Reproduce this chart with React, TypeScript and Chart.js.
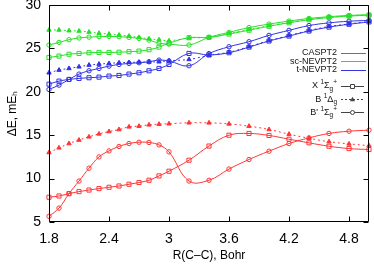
import React, { useEffect, useRef } from "react";
import { Chart, registerables } from "chart.js";
Chart.register(...registerables);

// Bond length R(C–C), Bohr
const bondLengths = [1.8, 1.9, 2.0, 2.1, 2.2, 2.3, 2.4, 2.5, 2.6, 2.7, 2.8, 2.9, 3.0, 3.2, 3.4, 3.6, 3.8, 4.0, 4.2, 4.4, 4.6, 4.8, 5.0];

// CASPT2
const caspt2X = [7.85, 8.0, 8.27, 8.5, 8.68, 8.85, 9.0, 9.15, 9.35, 9.55, 9.81, 10.31, 10.85, 12.12, 13.75, 15.0, 15.2, 14.97, 14.54, 14.12, 13.73, 13.46, 13.35];
const caspt2B = [13.0, 13.54, 14.04, 14.44, 14.81, 15.15, 15.42, 15.65, 15.96, 16.04, 16.19, 16.27, 16.32, 16.43, 16.42, 16.3, 16.04, 15.66, 15.12, 14.65, 14.25, 14.0, 13.8];
const caspt2Bp = [5.66, 6.6, 8.27, 9.72, 11.2, 12.5, 13.19, 13.7, 14.04, 14.19, 14.16, 13.88, 13.08, 9.72, 9.81, 11.1, 12.2, 13.16, 14.04, 14.69, 15.2, 15.46, 15.58];

// sc-NEVPT2
const scX = [23.96, 24.12, 24.33, 24.42, 24.5, 24.54, 24.54, 24.56, 24.62, 24.69, 24.85, 25.15, 25.6, 26.23, 26.27, 26.65, 27.1, 27.55, 27.95, 28.3, 28.55, 28.72, 28.82];
const scB = [27.12, 27.12, 27.04, 27.0, 26.88, 26.75, 26.65, 26.54, 26.42, 26.27, 26.1, 26.0, 25.88, 26.2, 26.27, 26.72, 27.17, 27.6, 28.0, 28.35, 28.58, 28.75, 28.86];
const scBp = [25.39, 25.69, 26.0, 26.2, 26.3, 26.35, 26.38, 26.35, 26.27, 26.15, 25.96, 25.6, 25.5, 25.39, 26.27, 26.85, 27.4, 27.8, 28.15, 28.45, 28.65, 28.8, 28.88];

// t-NEVPT2
const tX = [20.88, 21.23, 21.42, 21.54, 21.62, 21.69, 21.81, 21.88, 22.04, 22.19, 22.42, 22.69, 23.15, 24.42, 24.25, 24.5, 25.15, 25.85, 26.42, 27.0, 27.45, 27.78, 28.05];
const tB = [22.19, 22.5, 22.69, 22.88, 23.08, 23.19, 23.27, 23.35, 23.38, 23.42, 23.44, 23.46, 23.58, 23.73, 24.2, 24.56, 25.2, 25.9, 26.48, 27.06, 27.52, 27.82, 28.1];
const tBp = [20.27, 20.77, 21.42, 22.04, 22.42, 22.69, 22.96, 23.15, 23.27, 23.35, 23.46, 23.65, 23.55, 23.0, 24.4, 25.19, 25.77, 26.5, 27.08, 27.63, 27.94, 28.13, 28.23];

const xTicks = [1.8, 2.4, 3, 3.6, 4.2, 4.8];
const yTicks = [5, 10, 15, 20, 25, 30];

const methodNames = ["CASPT2", "sc-NEVPT2", "t-NEVPT2"];

const RED = "#ff3535";
const GREEN = "#25e025";
const BLUE = "#3232e6";
const FONT = "'Liberation Sans', Arial, Helvetica, sans-serif";

type State = "X" | "B" | "Bp";

function makeSeries(label: string, ys: number[], color: string, state: State) {
  const base: any = {
    label,
    data: bondLengths.map((x, i) => ({ x, y: ys[i] })),
    borderColor: color,
    borderWidth: 1,
    pointBorderColor: color,
    pointBorderWidth: 1,
    tension: 0.4,
    clip: false,
    fill: false,
  };
  if (state === "X") {
    base.pointStyle = "rect";
    base.pointRadius = 2.9;
    base.pointBackgroundColor = "rgba(0,0,0,0)";
  } else if (state === "B") {
    base.pointStyle = "triangle";
    base.pointRadius = 2.5;
    base.pointBackgroundColor = color;
    base.borderDash = [2, 3];
  } else {
    base.pointStyle = "circle";
    base.pointRadius = 2.2;
    base.pointBackgroundColor = "rgba(0,0,0,0)";
  }
  return base;
}

const framePlugin = {
  id: "frameTicks",
  afterDatasetsDraw(chart: any) {
    const { ctx, chartArea: a, scales } = chart;
    const L = Math.round(a.left) + 0.5;
    const R = Math.round(a.right) - 0.5;
    const T = Math.round(a.top) + 0.5;
    const B = Math.round(a.bottom) - 0.5;
    ctx.save();
    ctx.strokeStyle = "#000";
    ctx.lineWidth = 1;
    ctx.setLineDash([]);
    ctx.beginPath();
    ctx.rect(L, T, R - L, B - T);
    ctx.stroke();
    const len = 5;
    ctx.beginPath();
    for (const v of xTicks) {
      const px = Math.round(scales.x.getPixelForValue(v)) + 0.5;
      ctx.moveTo(px, B);
      ctx.lineTo(px, B - len);
      ctx.moveTo(px, T);
      ctx.lineTo(px, T + len);
    }
    for (const v of yTicks) {
      const py = Math.round(scales.y.getPixelForValue(v)) + 0.5;
      ctx.moveTo(L, py);
      ctx.lineTo(L + len, py);
      ctx.moveTo(R, py);
      ctx.lineTo(R - len, py);
    }
    ctx.stroke();
    ctx.restore();
  },
};

type Piece = { t: string; k: "n" | "sup" | "sub" };

const legendPlugin = {
  id: "customLegend",
  afterDraw(chart: any) {
    const ctx = chart.ctx;
    const textRight = 337;
    const lineL = 341;
    const lineR = 366;
    const mainSize = 9;
    const smallSize = 6.5;
    ctx.save();
    ctx.textBaseline = "middle";
    ctx.fillStyle = "#111";
    const methodColors = [RED, GREEN, BLUE];
    const methodY = [52.7, 61.3, 69.8];
    methodNames.forEach((name, i) => {
      ctx.font = `${mainSize}px ${FONT}`;
      ctx.textAlign = "right";
      ctx.fillStyle = "#111";
      ctx.fillText(name, textRight, methodY[i]);
      ctx.strokeStyle = methodColors[i];
      ctx.lineWidth = 1;
      ctx.setLineDash([]);
      ctx.beginPath();
      const y = Math.round(methodY[i]) + 0.5;
      ctx.moveTo(lineL, y);
      ctx.lineTo(lineR, y);
      ctx.stroke();
    });
    const states: { pieces: Piece[]; y: number; st: State }[] = [
      { pieces: [{ t: "X ", k: "n" }, { t: "1", k: "sup" }, { t: "Σ", k: "n" }, { t: "g", k: "sub" }, { t: "+", k: "sup" }], y: 86, st: "X" },
      { pieces: [{ t: "B ", k: "n" }, { t: "1", k: "sup" }, { t: "Δ", k: "n" }, { t: "g", k: "sub" }], y: 99.3, st: "B" },
      { pieces: [{ t: "B' ", k: "n" }, { t: "1", k: "sup" }, { t: "Σ", k: "n" }, { t: "g", k: "sub" }, { t: "+", k: "sup" }], y: 112.3, st: "Bp" },
    ];
    ctx.textAlign = "left";
    for (const s of states) {
      let total = 0;
      const widths = s.pieces.map((p) => {
        ctx.font = `${p.k === "n" ? mainSize : smallSize}px ${FONT}`;
        const w = ctx.measureText(p.t).width;
        total += w;
        return w;
      });
      let x = textRight - total;
      s.pieces.forEach((p, i) => {
        ctx.font = `${p.k === "n" ? mainSize : smallSize}px ${FONT}`;
        const dy = p.k === "sup" ? -3.5 : p.k === "sub" ? 2.8 : 0;
        ctx.fillStyle = "#111";
        ctx.fillText(p.t, x, s.y + dy);
        x += widths[i];
      });
      const y = Math.round(s.y) + 0.5;
      ctx.strokeStyle = "#444";
      ctx.fillStyle = "#444";
      ctx.lineWidth = 1;
      ctx.setLineDash(s.st === "B" ? [2, 2] : []);
      ctx.beginPath();
      ctx.moveTo(lineL, y);
      ctx.lineTo(lineR - 2, y);
      ctx.stroke();
      ctx.setLineDash([]);
      const cx = (lineL + lineR - 2) / 2;
      ctx.beginPath();
      if (s.st === "X") {
        ctx.rect(cx - 2, y - 2, 4, 4);
        ctx.fillStyle = "#fff";
        ctx.fill();
        ctx.stroke();
      } else if (s.st === "B") {
        ctx.moveTo(cx, y - 2.7);
        ctx.lineTo(cx + 2.5, y + 1.8);
        ctx.lineTo(cx - 2.5, y + 1.8);
        ctx.closePath();
        ctx.fill();
      } else {
        ctx.arc(cx, y, 2, 0, Math.PI * 2);
        ctx.fillStyle = "#fff";
        ctx.fill();
        ctx.stroke();
      }
    }
    ctx.restore();
  },
};

export default function App() {
  const ref = useRef<HTMLCanvasElement | null>(null);
  useEffect(() => {
    if (!ref.current) return;
    const datasets = [
      makeSeries("CASPT2 X", caspt2X, RED, "X"),
      makeSeries("CASPT2 B", caspt2B, RED, "B"),
      makeSeries("CASPT2 B'", caspt2Bp, RED, "Bp"),
      makeSeries("sc-NEVPT2 X", scX, GREEN, "X"),
      makeSeries("sc-NEVPT2 B", scB, GREEN, "B"),
      makeSeries("sc-NEVPT2 B'", scBp, GREEN, "Bp"),
      makeSeries("t-NEVPT2 X", tX, BLUE, "X"),
      makeSeries("t-NEVPT2 B", tB, BLUE, "B"),
      makeSeries("t-NEVPT2 B'", tBp, BLUE, "Bp"),
    ];
    const chart = new Chart(ref.current, {
      type: "line",
      data: { datasets },
      plugins: [framePlugin, legendPlugin],
      options: {
        animation: false,
        responsive: true,
        maintainAspectRatio: false,
        layout: { padding: { top: 5, right: 1, left: 0, bottom: 0 } },
        plugins: { legend: { display: false }, tooltip: { enabled: false } },
        scales: {
          x: {
            type: "linear",
            min: 1.8,
            max: 5.0,
            grid: { display: false, drawTicks: false },
            border: { display: false },
            afterBuildTicks: (scale: any) => {
              scale.ticks = xTicks.map((v) => ({ value: v }));
            },
            afterFit: (scale: any) => {
              scale.height = 45;
              scale.paddingLeft = 0;
              scale.paddingRight = 0;
            },
            ticks: {
              autoSkip: false,
              maxRotation: 0,
              padding: 9,
              color: "#000",
              font: { family: FONT, size: 14 },
              callback: (v: any) => String(v),
            },
            title: {
              display: true,
              text: "R(C–C), Bohr",
              color: "#000",
              font: { family: FONT, size: 12 },
              padding: { top: 0, bottom: 4 },
            },
          },
          y: {
            type: "linear",
            min: 5,
            max: 30,
            grid: { display: false, drawTicks: false },
            border: { display: false },
            afterBuildTicks: (scale: any) => {
              scale.ticks = yTicks.map((v) => ({ value: v }));
            },
            afterFit: (scale: any) => {
              scale.width = 49;
              scale.paddingTop = 0;
              scale.paddingBottom = 0;
            },
            ticks: {
              autoSkip: false,
              padding: 8,
              color: "#000",
              font: { family: FONT, size: 14 },
              callback: (v: any) => String(v),
            },
            title: {
              display: true,
              text: "ΔE, mEₕ",
              color: "#000",
              font: { family: FONT, size: 12 },
              padding: { top: 5, bottom: 0 },
            },
          },
        },
      } as any,
    });
    return () => chart.destroy();
  }, []);
  return (
    <div style={{ position: "fixed", left: 0, top: 0, width: 374, height: 267, background: "#fff" }}>
      <canvas ref={ref} />
    </div>
  );
}
